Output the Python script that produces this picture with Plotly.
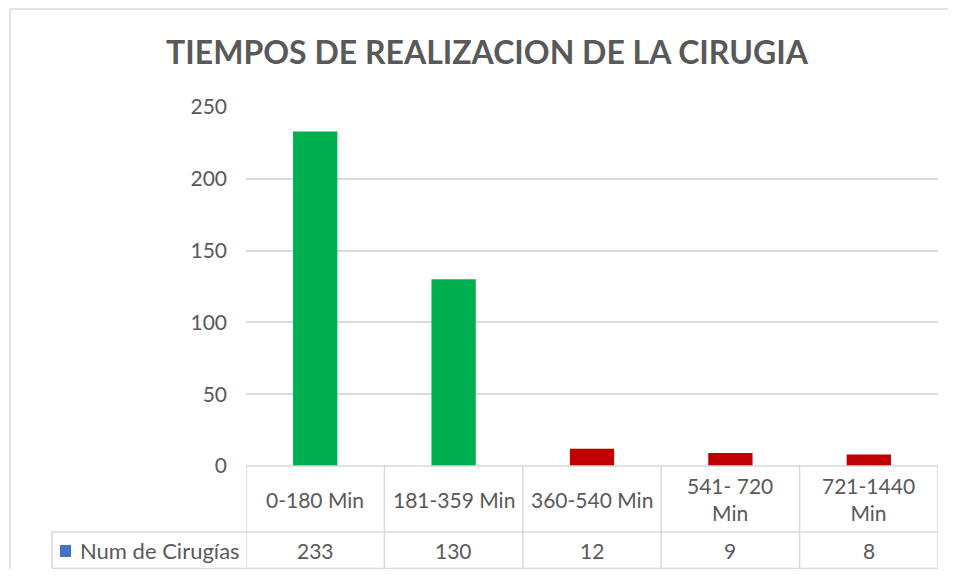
import plotly.graph_objects as go

categories = ["0-180 Min", "181-359 Min", "360-540 Min", "541- 720 Min", "721-1440 Min"]
table_labels = ["0-180 Min", "181-359 Min", "360-540 Min", "541- 720<br>Min", "721-1440<br>Min"]
values = [233, 130, 12, 9, 8]
bar_colors = ["#00B050", "#00B050", "#C00000", "#C00000", "#C00000"]
series_name = "Num de Cirugías"
title_text = "TIEMPOS DE REALIZACION DE LA CIRUGIA"
y_ticks = [0, 50, 100, 150, 200, 250]

FONT = "Lato"
GRAY = "#595959"
LINE = "#d9d9d9"

OFF = 8  # page body margin offset
W, H = 956 - 2 * OFF, 577 - 2 * OFF
# target pixel layout (in screenshot coords)
PL, PR, PT, PB = 246, 938, 107, 466
L = PL - OFF
R = W - (PR - OFF)
T = PT - OFF
B = H - (PB - OFF)
PW = W - L - R
PH = H - T - B


def py(pix):
    return (H - (pix - OFF) - B) / PH


def px(pix):
    return ((pix - OFF) - L) / PW


y_top = py(466)
y_mid = py(532)
y_bot = py(568.5)

fig = go.Figure()
fig.add_trace(go.Bar(
    x=categories, y=values, marker=dict(color=bar_colors, line=dict(width=0)),
    width=0.32, name=series_name, showlegend=False, hoverinfo="x+y",
))

shapes = []
n = len(categories)
lw = 1.5
shapes.append(dict(type="line", xref="x", yref="paper", x0=-0.5, x1=n - 0.5, y0=y_top, y1=y_top, line=dict(color=LINE, width=lw)))
shapes.append(dict(type="line", xref="paper", yref="paper", x0=px(52), x1=1, y0=y_mid, y1=y_mid, line=dict(color=LINE, width=lw)))
shapes.append(dict(type="line", xref="paper", yref="paper", x0=px(52), x1=1, y0=y_bot, y1=y_bot, line=dict(color=LINE, width=lw)))
for i in range(n + 1):
    shapes.append(dict(type="line", xref="x", yref="paper", x0=i - 0.5, x1=i - 0.5, y0=y_top, y1=y_bot, line=dict(color=LINE, width=lw)))
shapes.append(dict(type="line", xref="paper", yref="paper", x0=px(52), x1=px(52), y0=y_mid, y1=y_bot, line=dict(color=LINE, width=lw)))
# chart outer border
shapes.append(dict(type="line", xref="paper", yref="paper", x0=px(10), x1=px(10), y0=py(9), y1=py(600), line=dict(color=LINE, width=lw)))
shapes.append(dict(type="line", xref="paper", yref="paper", x0=px(10), x1=px(1000), y0=py(9), y1=py(9), line=dict(color=LINE, width=lw)))
# legend key square
shapes.append(dict(type="rect", xref="paper", yref="paper", x0=px(60), x1=px(71), y0=py(557), y1=py(545), fillcolor="#4472C4", line=dict(width=0)))

annotations = []
for cat, lab, v in zip(categories, table_labels, values):
    annotations.append(dict(x=cat, y=(y_top + y_mid) / 2, xref="x", yref="paper", text=lab, showarrow=False,
                            font=dict(family=FONT, size=21, color=GRAY), xanchor="center", yanchor="middle"))
    annotations.append(dict(x=cat, y=(y_mid + y_bot) / 2, xref="x", yref="paper", text=str(v), showarrow=False,
                            font=dict(family=FONT, size=21, color=GRAY), xanchor="center", yanchor="middle"))
annotations.append(dict(x=px(78), y=(y_mid + y_bot) / 2, xref="paper", yref="paper", text=series_name,
                        showarrow=False, font=dict(family=FONT, size=22, color=GRAY), xanchor="left", yanchor="middle"))

fig.update_layout(
    width=W, height=H,
    margin=dict(l=L, r=R, t=T, b=B, pad=0),
    paper_bgcolor="white", plot_bgcolor="white",
    title=dict(text="<b>" + title_text + "</b>", x=(487 - OFF) / W, xanchor="center", y=1 - (53 - OFF) / H, yanchor="middle",
               font=dict(family=FONT, size=32, color=GRAY)),
    xaxis=dict(showticklabels=False, showgrid=False, zeroline=False, showline=False, ticks="",
               range=[-0.5, n - 0.5], fixedrange=True),
    yaxis=dict(range=[0, 250], tickvals=y_ticks, showgrid=True, gridcolor=LINE, gridwidth=1.5,
               zeroline=False, showline=False, ticks="", ticklabelstandoff=18,
               tickfont=dict(family=FONT, size=21, color=GRAY), fixedrange=True),
    shapes=shapes, annotations=annotations,
)

fig.write_html("out.html")
